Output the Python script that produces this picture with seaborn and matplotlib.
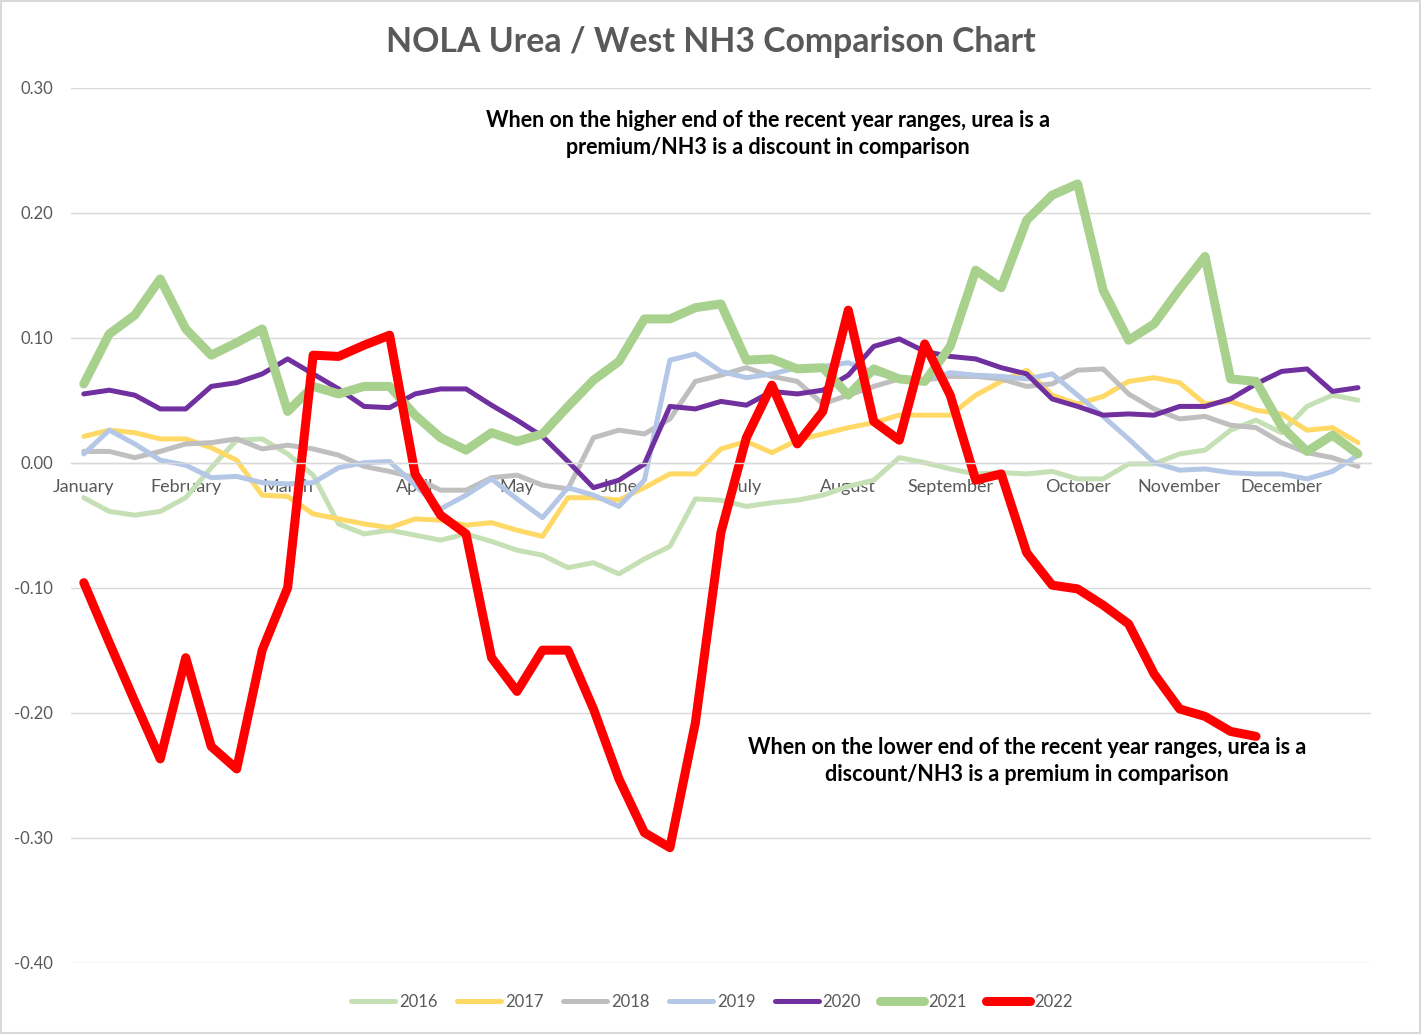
import numpy as np
import pandas as pd
import matplotlib
matplotlib.use("Agg")
import matplotlib.pyplot as plt
from matplotlib.patches import Rectangle
import seaborn as sns

# weekly spread values
months = ["January", "February", "March", "April", "May", "June", "July",
          "August", "September", "October", "November", "December"]
month_pos = [0, 4, 8, 13, 17, 21, 26, 30, 34, 39, 43, 47]

y2016 = [-0.028, -0.039, -0.042, -0.039, -0.028, -0.004, 0.018, 0.019, 0.007, -0.010,
         -0.049, -0.057, -0.054, -0.058, -0.062, -0.057, -0.063, -0.070, -0.074, -0.084,
         -0.080, -0.089, -0.077, -0.067, -0.029, -0.030, -0.035, -0.032, -0.030, -0.026,
         -0.019, -0.014, 0.004, 0.000, -0.005, -0.009, -0.008, -0.009, -0.007, -0.013,
         -0.013, -0.001, -0.001, 0.007, 0.010, 0.026, 0.034, 0.024, 0.045, 0.054, 0.050]
y2017 = [0.021, 0.026, 0.024, 0.019, 0.019, 0.012, 0.002, -0.026, -0.027, -0.041,
         -0.045, -0.049, -0.052, -0.045, -0.046, -0.050, -0.048, -0.054, -0.059, -0.028,
         -0.028, -0.030, -0.020, -0.009, -0.009, 0.011, 0.017, 0.008, 0.018, 0.023,
         0.028, 0.032, 0.038, 0.038, 0.038, 0.054, 0.065, 0.074, 0.054, 0.047,
         0.053, 0.065, 0.068, 0.064, 0.047, 0.049, 0.042, 0.039, 0.026, 0.028, 0.016]
y2018 = [0.009, 0.009, 0.004, 0.009, 0.015, 0.016, 0.019, 0.011, 0.014, 0.011,
         0.006, -0.003, -0.007, -0.012, -0.022, -0.022, -0.012, -0.010, -0.018, -0.021,
         0.020, 0.026, 0.023, 0.035, 0.065, 0.070, 0.076, 0.069, 0.065, 0.047,
         0.054, 0.061, 0.067, 0.066, 0.069, 0.069, 0.067, 0.061, 0.063, 0.074,
         0.075, 0.055, 0.043, 0.035, 0.037, 0.030, 0.028, 0.016, 0.008, 0.004, -0.003]
y2019 = [0.007, 0.026, 0.015, 0.002, -0.002, -0.012, -0.011, -0.016, -0.017, -0.016,
         -0.004, 0.000, 0.001, -0.018, -0.037, -0.026, -0.013, -0.029, -0.044, -0.020,
         -0.026, -0.035, -0.014, 0.082, 0.087, 0.073, 0.068, 0.071, 0.076, 0.077,
         0.080, 0.072, 0.068, 0.066, 0.072, 0.070, 0.069, 0.067, 0.071, 0.054,
         0.037, 0.019, 0.000, -0.006, -0.005, -0.008, -0.009, -0.009, -0.013, -0.007, 0.006]
y2020 = [0.055, 0.058, 0.054, 0.043, 0.043, 0.061, 0.064, 0.071, 0.083, 0.071,
         0.059, 0.045, 0.044, 0.055, 0.059, 0.059, 0.046, 0.034, 0.021, 0.001,
         -0.020, -0.014, -0.001, 0.045, 0.043, 0.049, 0.046, 0.057, 0.055, 0.058,
         0.070, 0.093, 0.099, 0.089, 0.085, 0.083, 0.076, 0.071, 0.051, 0.045,
         0.038, 0.039, 0.038, 0.045, 0.045, 0.051, 0.063, 0.073, 0.075, 0.057, 0.060]
y2021 = [0.063, 0.103, 0.118, 0.147, 0.107, 0.086, 0.096, 0.107, 0.041, 0.061,
         0.055, 0.061, 0.061, 0.038, 0.020, 0.010, 0.024, 0.017, 0.023, 0.045,
         0.066, 0.081, 0.115, 0.115, 0.124, 0.127, 0.082, 0.083, 0.075, 0.076,
         0.054, 0.075, 0.067, 0.065, 0.093, 0.154, 0.140, 0.194, 0.214, 0.223,
         0.138, 0.098, 0.111, 0.139, 0.165, 0.067, 0.065, 0.029, 0.009, 0.022, 0.007]
y2022 = [-0.096, -0.144, -0.191, -0.237, -0.156, -0.227, -0.245, -0.150, -0.100, 0.086,
         0.085, 0.094, 0.102, -0.009, -0.042, -0.057, -0.156, -0.183, -0.150, -0.150,
         -0.197, -0.253, -0.296, -0.308, -0.208, -0.056, 0.020, 0.062, 0.015, 0.041,
         0.122, 0.033, 0.018, 0.095, 0.054, -0.014, -0.009, -0.072, -0.098, -0.101,
         -0.114, -0.129, -0.169, -0.197, -0.203, -0.215, -0.219]

years = ["2016", "2017", "2018", "2019", "2020", "2021", "2022"]
series = [y2016, y2017, y2018, y2019, y2020, y2021, y2022]
colors = ["#C5E0B4", "#FFD966", "#BFBFBF", "#B4C7E7", "#7030A0", "#A9D18E", "#FF0000"]
widths = [3.6, 3.6, 3.6, 3.6, 3.6, 6.5, 6.5]

yticks = [-0.40, -0.30, -0.20, -0.10, 0.00, 0.10, 0.20, 0.30]

sns.set_style("white")
plt.rcParams["font.family"] = ["Lato", "DejaVu Sans"]

grey = "#595959"
grid = "#D9D9D9"

fig = plt.figure(figsize=(14.21, 10.34), dpi=100)
ax = fig.add_axes([0.05, 0.069, 0.9146, 0.8462])

for yr, vals, c, lw in zip(years, series, colors, widths):
    df = pd.DataFrame({"week": np.arange(len(vals)), "value": vals})
    sns.lineplot(data=df, x="week", y="value", color=c, linewidth=lw, label=yr, ax=ax,
                 solid_capstyle="round", solid_joinstyle="round")

ax.set_xlim(-0.5, 50.5)
ax.set_ylim(-0.40, 0.30)
ax.set_yticks(yticks)
ax.set_yticklabels([f"{v:.2f}" for v in yticks])
ax.yaxis.grid(True, color=grid, linewidth=1.0)
ax.set_axisbelow("line")

ax.set_xticks(month_pos)
ax.set_xticklabels(months)
ax.set_xticks(np.arange(-0.5, 51, 1), minor=True)
ax.tick_params(axis="x", which="major", length=0, pad=12, labelsize=13, labelcolor=grey)
ax.tick_params(axis="x", which="minor", length=4.5, width=1, color=grid, direction="out")
ax.tick_params(axis="y", length=0, pad=13, labelsize=12, labelcolor=grey)

for s in ["top", "right", "left"]:
    ax.spines[s].set_visible(False)
ax.spines["bottom"].set_position(("data", 0))
ax.spines["bottom"].set_color(grid)
ax.spines["bottom"].set_linewidth(1.0)
ax.set_xlabel("")
ax.set_ylabel("")

fig.text(711 / 1421, 1 - 42 / 1034, "NOLA Urea / West NH3 Comparison Chart", ha="center",
         va="center", fontsize=24.3, fontweight="bold", color=grey)

fig.text(768 / 1421, 1 - 134 / 1034,
         "When on the higher end of the recent year ranges, urea is a\npremium/NH3 is a discount in comparison",
         ha="center", va="center", fontsize=15.5, fontweight="bold", color="black", linespacing=1.38)
fig.text(1027 / 1421, 1 - 761 / 1034,
         "When on the lower end of the recent year ranges, urea is a\ndiscount/NH3 is a premium in comparison",
         ha="center", va="center", fontsize=15.5, fontweight="bold", color="black", linespacing=1.38)

ax.get_legend().remove()
handles, labels = ax.get_legend_handles_labels()
leg = fig.legend(handles, labels, loc="center", bbox_to_anchor=(712 / 1421, 1 - 1002 / 1034),
                 ncol=7, frameon=False, fontsize=12, handlelength=2.64, handletextpad=0.25,
                 columnspacing=1.15)
for t in leg.get_texts():
    t.set_color(grey)

fig.patches.append(Rectangle((0.001, 0.001), 0.998, 0.998, transform=fig.transFigure,
                             fill=False, edgecolor=grid, linewidth=1.5))

fig.savefig("out.png", dpi=100)
